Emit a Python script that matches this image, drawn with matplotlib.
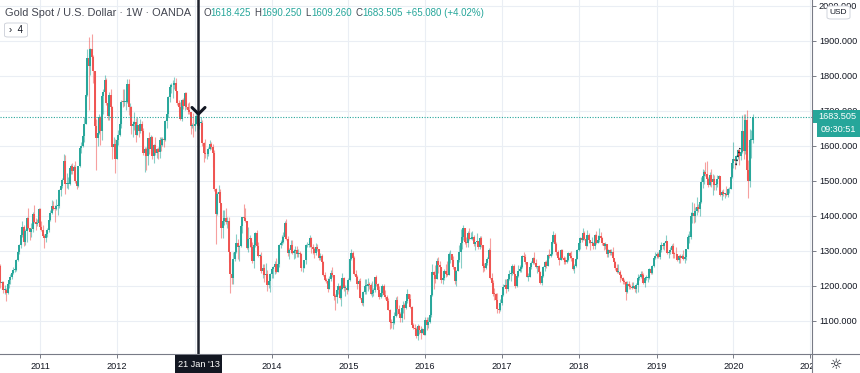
import numpy as np
import pandas as pd
import matplotlib
matplotlib.use("Agg")
import matplotlib.pyplot as plt
from matplotlib.lines import Line2D
from matplotlib.patches import Rectangle, FancyBboxPatch

plt.rcParams['font.family'] = ['Liberation Sans', 'DejaVu Sans']

# weekly OANDA gold, first candle = week of 28 Jun 2010
start_week = "2010-06-28"
first_open = 1256

closes = [
    # 2010
    1208, 1210, 1188, 1188, 1181, 1205, 1216, 1227, 1237, 1246, 1246, 1275, 1297, 1318, 1346, 1368, 1327, 1357, 1394, 1367,
    1353, 1362, 1406, 1384, 1378, 1380, 1421,
    # 2011
    1369, 1360, 1342, 1336, 1349, 1361, 1388, 1409, 1429, 1421, 1419, 1428, 1429, 1474, 1486, 1504, 1556, 1491, 1492, 1492,
    1536, 1542, 1529, 1539, 1501, 1486, 1542, 1594, 1601, 1628, 1663, 1745, 1852, 1828, 1876, 1855, 1813, 1657, 1624, 1636,
    1682, 1642, 1744, 1754, 1788, 1724, 1686, 1746, 1712, 1597, 1606, 1564,
    # 2012
    1617, 1631, 1664, 1727, 1725, 1725, 1725, 1776, 1710, 1711, 1656, 1662, 1668, 1631, 1659, 1642, 1663, 1644, 1579, 1592,
    1572, 1622, 1591, 1627, 1572, 1604, 1580, 1592, 1583, 1618, 1603, 1621, 1616, 1671, 1692, 1739, 1769, 1773, 1775, 1780,
    1758, 1724, 1711, 1676, 1731, 1714, 1752, 1712, 1702, 1696, 1657, 1658, 1656,
    # 2013
    1662, 1687, 1657, 1667, 1667, 1609, 1581, 1576, 1577, 1592, 1606, 1596, 1581, 1476, 1405, 1462, 1469, 1436, 1365, 1386,
    1393, 1383, 1387, 1298, 1234, 1223, 1277, 1296, 1322, 1310, 1313, 1372, 1396, 1395, 1386, 1308, 1333, 1338, 1310, 1272,
    1316, 1352, 1315, 1286, 1287, 1244, 1251, 1230, 1235, 1204, 1213, 1235,
    # 2014
    1248, 1253, 1264, 1240, 1263, 1318, 1323, 1326, 1339, 1379, 1333, 1294, 1303, 1318, 1294, 1300, 1302, 1290, 1293, 1292,
    1250, 1252, 1274, 1316, 1316, 1320, 1337, 1310, 1307, 1294, 1310, 1305, 1280, 1286, 1268, 1230, 1216, 1215, 1192, 1221,
    1237, 1231, 1171, 1169, 1188, 1201, 1167, 1191, 1222, 1195, 1195, 1189,
    # 2015
    1216, 1276, 1293, 1279, 1234, 1227, 1205, 1213, 1167, 1152, 1184, 1199, 1201, 1205, 1203, 1178, 1179, 1189, 1225, 1205,
    1189, 1168, 1180, 1201, 1173, 1168, 1157, 1131, 1097, 1094, 1094, 1113, 1160, 1134, 1121, 1108, 1137, 1146, 1137, 1156,
    1176, 1163, 1141, 1088, 1081, 1076, 1056, 1086, 1075, 1066, 1076, 1061,
    # 2016
    1103, 1089, 1097, 1118, 1174, 1239, 1231, 1221, 1271, 1259, 1253, 1217, 1223, 1243, 1235, 1232, 1290, 1290, 1273, 1253,
    1213, 1243, 1275, 1298, 1322, 1340, 1366, 1327, 1323, 1350, 1335, 1335, 1341, 1321, 1326, 1328, 1310, 1337, 1316, 1257,
    1251, 1266, 1276, 1304, 1224, 1208, 1178, 1177, 1160, 1133, 1132, 1151,
    # 2017
    1173, 1197, 1204, 1190, 1220, 1234, 1236, 1257, 1234, 1201, 1229, 1243, 1249, 1254, 1286, 1283, 1268, 1227, 1227, 1253,
    1267, 1279, 1266, 1253, 1256, 1241, 1209, 1228, 1255, 1268, 1258, 1289, 1285, 1291, 1325, 1346, 1320, 1297, 1280, 1275,
    1304, 1280, 1273, 1269, 1275, 1293, 1287, 1279, 1248, 1257, 1278, 1302,
    # 2018
    1322, 1338, 1332, 1350, 1333, 1315, 1347, 1330, 1323, 1324, 1313, 1347, 1323, 1332, 1344, 1336, 1323, 1315, 1319, 1291,
    1302, 1294, 1298, 1279, 1269, 1252, 1241, 1241, 1231, 1223, 1214, 1212, 1184, 1206, 1201, 1197, 1193, 1199, 1192, 1203,
    1222, 1227, 1233, 1232, 1209, 1222, 1222, 1222, 1248, 1238, 1256, 1279, 1287,
    # 2019
    1290, 1282, 1303, 1317, 1314, 1322, 1328, 1293, 1298, 1302, 1313, 1292, 1291, 1290, 1275, 1286, 1281, 1285, 1277, 1284,
    1305, 1340, 1341, 1399, 1409, 1399, 1415, 1426, 1419, 1440, 1497, 1513, 1527, 1520, 1507, 1488, 1517, 1497, 1505, 1489,
    1490, 1505, 1514, 1459, 1468, 1462, 1464, 1460, 1476, 1478, 1511, 1552,
    # 2020
    1562, 1557, 1571, 1589, 1570, 1584, 1643, 1585, 1674, 1530, 1499, 1617, 1618.425, 1683.505,
]

highs = [
    1262, 1214, 1215, 1204, 1195, 1212, 1220, 1233, 1242, 1254, 1259, 1277, 1300, 1321, 1349, 1387, 1373, 1362, 1398, 1424,
    1367, 1380, 1410, 1432, 1394, 1391, 1422,
    1423, 1387, 1375, 1349, 1359, 1365, 1389, 1416, 1445, 1444, 1431, 1448, 1438, 1476, 1488, 1509, 1577, 1575, 1523, 1510,
    1539, 1548, 1551, 1545, 1556, 1506, 1544, 1595, 1610, 1632, 1682, 1814, 1877, 1912, 1881, 1921, 1861, 1814, 1676, 1674,
    1690, 1686, 1749, 1763, 1802, 1793, 1731, 1754, 1763, 1715, 1625, 1619,
    1625, 1647, 1671, 1730, 1764, 1764, 1737, 1790, 1792, 1724, 1714, 1671, 1697, 1680, 1683, 1652, 1677, 1671, 1650, 1598,
    1597, 1624, 1641, 1631, 1628, 1606, 1625, 1595, 1597, 1625, 1625, 1626, 1625, 1675, 1692, 1742, 1778, 1780, 1788, 1796,
    1793, 1755, 1730, 1726, 1735, 1738, 1755, 1755, 1723, 1725, 1698, 1667, 1693,
    1679, 1694, 1697, 1680, 1684, 1675, 1612, 1619, 1583, 1597, 1616, 1612, 1605, 1588, 1480, 1469, 1488, 1478, 1438, 1416,
    1418, 1424, 1397, 1397, 1298, 1268, 1298, 1301, 1348, 1335, 1317, 1378, 1398, 1433, 1424, 1387, 1368, 1346, 1337, 1327,
    1323, 1354, 1361, 1325, 1292, 1298, 1263, 1262, 1267, 1246, 1216, 1238,
    1255, 1256, 1272, 1280, 1276, 1321, 1332, 1345, 1355, 1385, 1392, 1342, 1308, 1331, 1331, 1305, 1315, 1315, 1305, 1300,
    1295, 1257, 1275, 1321, 1325, 1332, 1345, 1340, 1321, 1311, 1322, 1321, 1306, 1295, 1291, 1270, 1239, 1224, 1222, 1229,
    1246, 1255, 1232, 1176, 1190, 1208, 1204, 1220, 1238, 1225, 1204, 1202,
    1224, 1277, 1307, 1300, 1286, 1245, 1232, 1220, 1224, 1178, 1186, 1219, 1219, 1224, 1210, 1209, 1215, 1195, 1227, 1232,
    1208, 1199, 1194, 1205, 1205, 1188, 1175, 1166, 1133, 1105, 1105, 1126, 1169, 1170, 1146, 1125, 1142, 1156, 1151, 1160,
    1191, 1177, 1176, 1144, 1095, 1090, 1082, 1090, 1088, 1086, 1081, 1083,
    1112, 1112, 1110, 1127, 1175, 1263, 1244, 1261, 1281, 1283, 1270, 1253, 1243, 1249, 1262, 1271, 1296, 1304, 1289, 1287,
    1253, 1245, 1278, 1316, 1362, 1342, 1375, 1364, 1339, 1357, 1367, 1354, 1358, 1347, 1327, 1352, 1328, 1344, 1342, 1318,
    1267, 1274, 1282, 1308, 1338, 1236, 1216, 1193, 1181, 1181, 1137, 1163,
    1183, 1207, 1219, 1220, 1225, 1245, 1244, 1264, 1263, 1234, 1233, 1261, 1259, 1274, 1289, 1296, 1290, 1268, 1236, 1266,
    1271, 1282, 1296, 1276, 1258, 1260, 1244, 1231, 1257, 1271, 1274, 1291, 1306, 1300, 1326, 1357, 1352, 1326, 1302, 1284,
    1306, 1307, 1285, 1284, 1288, 1296, 1298, 1299, 1281, 1263, 1279, 1305,
    1325, 1340, 1344, 1366, 1357, 1344, 1361, 1352, 1332, 1341, 1327, 1349, 1356, 1346, 1365, 1353, 1340, 1323, 1327, 1321,
    1307, 1307, 1305, 1310, 1281, 1271, 1263, 1262, 1245, 1235, 1227, 1219, 1215, 1215, 1214, 1207, 1212, 1211, 1203, 1208,
    1233, 1232, 1243, 1243, 1237, 1224, 1230, 1228, 1250, 1252, 1261, 1284, 1298,
    1297, 1298, 1305, 1326, 1320, 1326, 1346, 1329, 1300, 1311, 1320, 1324, 1298, 1310, 1291, 1288, 1290, 1290, 1303, 1289,
    1306, 1348, 1358, 1411, 1439, 1437, 1425, 1453, 1435, 1449, 1510, 1535, 1531, 1555, 1557, 1510, 1525, 1535, 1519, 1517,
    1499, 1518, 1516, 1515, 1475, 1478, 1467, 1485, 1480, 1484, 1513, 1553,
    1611, 1563, 1574, 1592, 1591, 1585, 1689, 1690, 1692, 1703, 1560, 1648, 1645, 1690.25,
]

lows = [
    1195, 1190, 1181, 1176, 1157, 1177, 1193, 1206, 1221, 1235, 1241, 1244, 1270, 1292, 1309, 1340, 1315, 1318, 1325, 1364,
    1330, 1340, 1355, 1380, 1360, 1370, 1378,
    1362, 1356, 1340, 1309, 1327, 1339, 1354, 1386, 1406, 1418, 1382, 1416, 1404, 1424, 1458, 1480, 1500, 1462, 1481, 1476,
    1488, 1519, 1521, 1512, 1495, 1478, 1482, 1539, 1580, 1598, 1610, 1670, 1742, 1703, 1803, 1848, 1780, 1631, 1532, 1600,
    1633, 1604, 1617, 1690, 1751, 1717, 1674, 1674, 1706, 1563, 1585, 1523,
    1564, 1604, 1628, 1652, 1710, 1714, 1704, 1724, 1688, 1674, 1635, 1627, 1646, 1612, 1630, 1626, 1636, 1632, 1573, 1527,
    1532, 1546, 1576, 1580, 1562, 1550, 1574, 1565, 1563, 1566, 1585, 1601, 1598, 1614, 1652, 1683, 1726, 1751, 1737, 1762,
    1754, 1717, 1701, 1673, 1672, 1707, 1704, 1705, 1690, 1690, 1635, 1650, 1625,
    1644, 1662, 1653, 1649, 1657, 1600, 1554, 1565, 1562, 1572, 1589, 1590, 1540, 1470, 1321, 1404, 1449, 1430, 1338, 1336,
    1375, 1378, 1366, 1269, 1180, 1207, 1207, 1270, 1293, 1276, 1272, 1312, 1350, 1391, 1383, 1307, 1297, 1310, 1277, 1267,
    1251, 1310, 1307, 1283, 1264, 1238, 1224, 1211, 1225, 1186, 1195, 1182,
    1222, 1224, 1235, 1238, 1240, 1255, 1309, 1316, 1323, 1337, 1330, 1287, 1277, 1295, 1291, 1277, 1281, 1282, 1284, 1282,
    1242, 1240, 1252, 1264, 1310, 1310, 1310, 1293, 1291, 1281, 1289, 1301, 1273, 1274, 1263, 1228, 1213, 1208, 1183, 1191,
    1214, 1227, 1161, 1131, 1151, 1178, 1164, 1142, 1191, 1186, 1172, 1176,
    1186, 1215, 1274, 1252, 1231, 1216, 1192, 1195, 1163, 1147, 1142, 1178, 1178, 1186, 1190, 1175, 1169, 1170, 1182, 1200,
    1182, 1162, 1167, 1171, 1170, 1162, 1146, 1130, 1077, 1080, 1077, 1090, 1112, 1117, 1118, 1097, 1098, 1124, 1106, 1135,
    1150, 1159, 1136, 1084, 1077, 1063, 1052, 1046, 1062, 1049, 1065, 1059,
    1060, 1073, 1080, 1095, 1110, 1171, 1190, 1208, 1219, 1236, 1226, 1208, 1207, 1217, 1226, 1229, 1235, 1266, 1260, 1249,
    1206, 1200, 1242, 1268, 1250, 1306, 1332, 1320, 1311, 1311, 1330, 1333, 1331, 1315, 1303, 1321, 1307, 1306, 1311, 1241,
    1243, 1248, 1261, 1270, 1220, 1201, 1171, 1160, 1156, 1122, 1124, 1128,
    1147, 1172, 1195, 1180, 1187, 1216, 1215, 1232, 1232, 1195, 1198, 1226, 1239, 1240, 1250, 1275, 1262, 1226, 1214, 1226,
    1248, 1262, 1264, 1251, 1237, 1237, 1205, 1204, 1225, 1243, 1251, 1257, 1280, 1282, 1288, 1322, 1316, 1289, 1276, 1260,
    1274, 1276, 1262, 1264, 1265, 1271, 1281, 1270, 1246, 1236, 1253, 1276,
    1300, 1307, 1327, 1331, 1330, 1307, 1315, 1322, 1303, 1317, 1307, 1307, 1321, 1322, 1326, 1330, 1317, 1302, 1305, 1283,
    1282, 1288, 1289, 1276, 1260, 1245, 1238, 1236, 1211, 1220, 1205, 1207, 1160, 1181, 1190, 1191, 1190, 1194, 1182, 1181,
    1183, 1217, 1222, 1211, 1206, 1196, 1217, 1212, 1221, 1234, 1235, 1255, 1276,
    1279, 1280, 1276, 1297, 1305, 1302, 1321, 1292, 1281, 1290, 1297, 1281, 1281, 1289, 1270, 1266, 1266, 1279, 1274, 1266,
    1275, 1305, 1323, 1335, 1381, 1381, 1382, 1404, 1412, 1400, 1437, 1480, 1491, 1514, 1503, 1484, 1487, 1483, 1459, 1474,
    1475, 1483, 1490, 1456, 1445, 1457, 1452, 1458, 1455, 1467, 1477, 1508,
    1536, 1535, 1547, 1563, 1547, 1561, 1581, 1563, 1576, 1505, 1451, 1483, 1567, 1609.26,
]

price_ticks = list(range(1100, 2001, 100))
last_price = 1683.505
cross_date = "2013-01-21"
ohlc_parts = [("O", "1618.425"), ("H", "1690.250"), ("L", "1609.260"), ("C", "1683.505"),
              ("", "+65.080 (+4.02%)")]

W, H = 860, 373


def fx(px):
    return px / W


def fy(py):
    return 1 - py / H


closes = np.array(closes, dtype=float)
highs = np.array(highs, dtype=float)
lows = np.array(lows, dtype=float)
opens = np.r_[first_open, closes[:-1]]
n = len(closes)
x = np.arange(n)
dates = pd.date_range(start_week, periods=n, freq="W-MON")

highs = np.maximum(highs, np.maximum(opens, closes))
lows = np.minimum(lows, np.minimum(opens, closes))

up_col, dn_col = "#26a69a", "#ef5350"
up = closes >= opens
body_cols = np.where(up, up_col, dn_col)

fig = plt.figure(figsize=(W / 100, H / 100), dpi=100)
ax = fig.add_axes([0, 1 - 354 / H, 812 / W, 354 / H])

ax.vlines(x, lows, highs, colors=body_cols, lw=0.8, alpha=0.55, zorder=2)
bot = np.minimum(opens, closes)
top = np.maximum(opens, closes)
top = np.maximum(top, bot + 2.5)
ax.vlines(x, bot, top, colors=body_cols, lw=1.4, zorder=3)

# year ticks at the first weekly candle of each year
years = dates.year
year_idx = [i for i in range(1, n) if years[i] != years[i - 1]]
year_lbl = [str(years[i]) for i in year_idx]
idx_2021 = n - 1 + (pd.Timestamp("2021-01-04") - dates[-1]).days // 7
year_idx.append(idx_2021)
year_lbl.append("2021")

k = 693.5 / (year_idx[-2] - year_idx[0])
ax.set_xlim(year_idx[0] - 40 / k, year_idx[0] + 772 / k)
ax.set_ylim(1005.7, 2017.1)

cross_idx = dates.get_loc(pd.Timestamp(cross_date))
# the 2013 label sits under the crosshair date box
year_lbl = ["" if abs(i - cross_idx) < 5 else s for i, s in zip(year_idx, year_lbl)]

ax.set_xticks(year_idx)
ax.set_xticklabels(year_lbl)
ax.yaxis.tick_right()
ax.set_yticks(price_ticks)
ax.set_yticklabels([f"{p:.3f}" for p in price_ticks])
ax.tick_params(axis="both", length=3, width=0.7, color="#787b86",
               labelsize=6.6, labelcolor="#131722")
ax.tick_params(axis="y", pad=2)
ax.tick_params(axis="x", pad=2.5)
ax.grid(True, color="#eaeef4", lw=0.8, zorder=0)
ax.set_axisbelow(True)
for s in ax.spines.values():
    s.set_visible(False)

ax.axhline(last_price, color=up_col, lw=0.8, ls=(0, (1, 1.4)), zorder=4)
ax.axvline(cross_idx, color="#1e222d", lw=1.8, zorder=6)

# drawing tool remnant near the 2020 high
fig.add_artist(Line2D([fx(736), fx(738), fx(740)], [fy(165), fy(156), fy(148)],
                      transform=fig.transFigure, color="#131722", lw=1.1, ls=":"))

# chevron cursor on the crosshair
fig.add_artist(Line2D([fx(192), fx(198.5), fx(205)], [fy(107.5), fy(114), fy(107.5)],
                      transform=fig.transFigure, color="#131722", lw=2.2,
                      solid_capstyle="round", solid_joinstyle="round", zorder=7))

# cover the price scale below the axis (clips the 2021 label)
fig.add_artist(Rectangle((fx(812.5), 0), 1 - fx(812.5), fy(354.5), transform=fig.transFigure,
                         facecolor="white", edgecolor="none", zorder=5))

# axis border lines
fig.add_artist(Line2D([0, 1], [fy(354), fy(354)], transform=fig.transFigure,
                      color="#787b86", lw=0.8, zorder=6))
fig.add_artist(Line2D([fx(812.3), fx(812.3)], [0, 1], transform=fig.transFigure,
                      color="#787b86", lw=0.8, zorder=6))

# header
fig.text(fx(5), fy(13), "Gold Spot / U.S. Dollar · 1W · OANDA", fontsize=7.9,
         color="#434651", va="center", zorder=8)

renderer = fig.canvas.get_renderer()
cur = 203.0
for letter, value in ohlc_parts:
    if letter:
        t = fig.text(fx(cur), fy(13), letter, fontsize=7.0, color="#434651", va="center", zorder=8)
        cur = t.get_window_extent(renderer).x1
    t = fig.text(fx(cur), fy(13), value, fontsize=7.0, color=up_col, va="center", zorder=8)
    cur = t.get_window_extent(renderer).x1 + 3.5

fig.add_artist(FancyBboxPatch((fx(4.5), fy(37)), fx(23), 14 / H, transform=fig.transFigure,
                              boxstyle="round,pad=0,rounding_size=0.004",
                              facecolor="white", edgecolor="#d1d4dc", lw=0.7, zorder=8))
fig.text(fx(16), fy(30), "›  4", fontsize=7, color="#131722", ha="center", va="center", zorder=9)

# price scale labels
fig.add_artist(FancyBboxPatch((fx(827), fy(19)), fx(23), 13 / H, transform=fig.transFigure,
                              boxstyle="round,pad=0,rounding_size=0.005",
                              facecolor="white", edgecolor="#d1d4dc", lw=0.7, zorder=8))
fig.text(fx(838.5), fy(12.5), "USD", fontsize=6, color="#131722", ha="center", va="center", zorder=9)

fig.add_artist(Rectangle((fx(813), fy(122.5)), fx(47), 12.5 / H, transform=fig.transFigure,
                         facecolor=up_col, edgecolor="none", zorder=8))
fig.text(fx(837), fy(116.5), f"{last_price:.3f}", fontsize=6.6, color="white",
         ha="center", va="center", zorder=9)
fig.add_artist(Rectangle((fx(817), fy(136.5)), fx(43), 13 / H, transform=fig.transFigure,
                         facecolor=up_col, edgecolor="none", zorder=8))
fig.text(fx(838.5), fy(130), "09:30:51", fontsize=6.6, color="white",
         ha="center", va="center", zorder=9)

# crosshair date label
fig.add_artist(Rectangle((fx(175), 0), fx(47), fy(355), transform=fig.transFigure,
                         facecolor="#131722", edgecolor="none", zorder=8))
fig.text(fx(198.5), fy(364.5), "21 Jan '13", fontsize=6.6, color="white",
         ha="center", va="center", zorder=9)

fig.text(fx(836.5), fy(365), "☼", fontsize=10, color="#131722", ha="center", va="center",
         family=["DejaVu Sans"], zorder=9)

fig.savefig("out.png", dpi=100)
